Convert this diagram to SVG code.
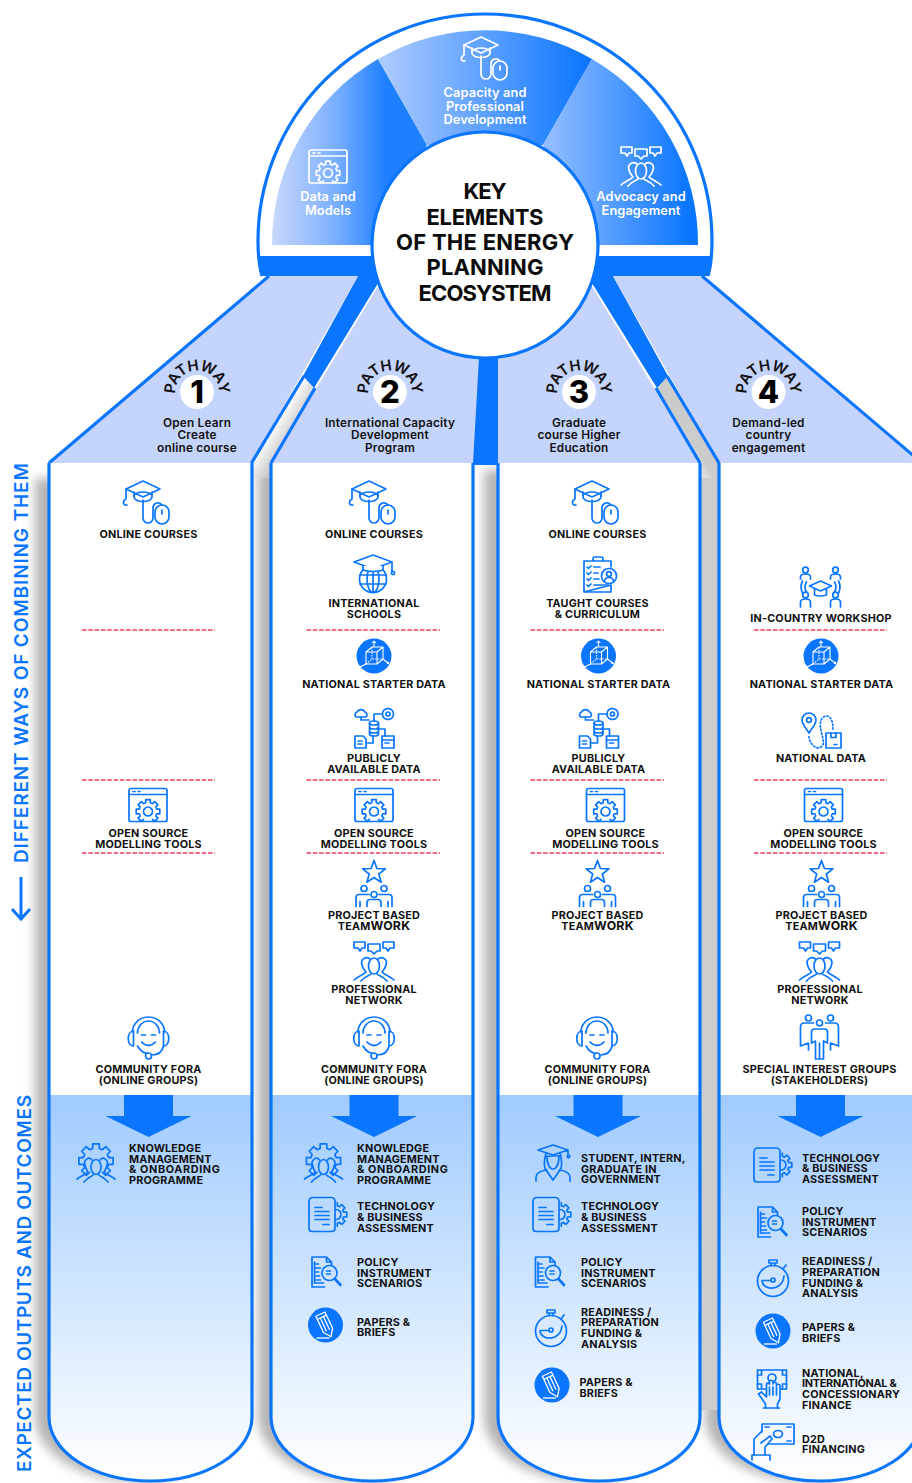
<svg xmlns="http://www.w3.org/2000/svg" xmlns:xlink="http://www.w3.org/1999/xlink" width="912" height="1483" viewBox="0 0 912 1483">
<style>
text{font-family:Inter,"Liberation Sans",sans-serif;fill:#111}
.l{font-size:10.8px;font-weight:700;text-anchor:middle;letter-spacing:.2px}
.o{font-size:10.8px;font-weight:700;letter-spacing:.2px}
.w{font-size:12.3px}
.h{font-size:11.8px;font-weight:600;text-anchor:middle;letter-spacing:.2px}
.s{font-size:12.8px;font-weight:600;text-anchor:middle;fill:#fff;letter-spacing:.1px}
.t{font-size:22px;font-weight:700;text-anchor:middle;fill:#0b0b0b}
.n{font-size:31px;font-weight:800;text-anchor:middle;fill:#000}
.p{font-size:15px;font-weight:600;text-anchor:middle;fill:#111;letter-spacing:-.4px}
.v{font-size:19px;font-weight:600;fill:#0a75ff}
.i{fill:none;stroke:currentColor;stroke-width:1.7;stroke-linejoin:round;stroke-linecap:round}
.b{color:#0a75ff}
.wh{color:#fff}
.d{stroke:#ea3f5c;stroke-width:1.6;stroke-dasharray:4.6 1.7;fill:none}
.e{fill:none;stroke:#0a75ff;stroke-width:3.2;stroke-linejoin:round}
.hd{fill:#c5d4fc}
.bl{fill:#0a75ff}
</style>
<defs>
<linearGradient id="gOut" gradientUnits="userSpaceOnUse" x1="0" y1="1095" x2="0" y2="1480"><stop offset="0" stop-color="#a0cbff"/><stop offset="1" stop-color="#fff"/></linearGradient>
<linearGradient id="gData" gradientUnits="userSpaceOnUse" x1="272" y1="0" x2="385" y2="0"><stop offset="0" stop-color="#c8d8fc"/><stop offset=".55" stop-color="#7db0ff"/><stop offset="1" stop-color="#1f80ff"/></linearGradient>
<linearGradient id="gCap" gradientUnits="userSpaceOnUse" x1="385" y1="0" x2="590" y2="0"><stop offset="0" stop-color="#aac9ff"/><stop offset="1" stop-color="#0a75ff"/></linearGradient>
<linearGradient id="gAdv" gradientUnits="userSpaceOnUse" x1="550" y1="0" x2="690" y2="0"><stop offset="0" stop-color="#8fbcff"/><stop offset="1" stop-color="#0a75ff"/></linearGradient>
<linearGradient id="gDiagL" gradientUnits="userSpaceOnUse" x1="278" y1="417" x2="296" y2="428"><stop offset="0" stop-color="#fff"/><stop offset="1" stop-color="#c9c9c9"/></linearGradient>
<linearGradient id="gDiagR" gradientUnits="userSpaceOnUse" x1="672" y1="428" x2="690" y2="417"><stop offset="0" stop-color="#e4e4e4"/><stop offset=".5" stop-color="#cbcbcb"/><stop offset="1" stop-color="#cbcbcb"/></linearGradient>
<filter id="blur" x="-20%" y="-5%" width="140%" height="110%"><feGaussianBlur stdDeviation="5.5"/></filter>
<path id="arc" d="M-20.7,8 A22,22 0 1 1 20.7,8"/>

<g id="capmouse" class="i"><path d="M-21,-14 L-4,-22 L13,-14 L-4,-6 Z"/><path d="M-13,-11 V-6 A9,4.5 0 0 0 5,-6 V-11"/><path d="M-13,-7 A9,4 0 0 1 5,-7"/><path d="M-21,-14 V-4 M-21,-4 C-25,-2 -24,3 -20,2 M-4,-3 V15 A5,5 0 0 0 6,15 V4 A5,5 0 0 1 15,2"/><rect x="8" y="2" width="14" height="19" rx="7"/><path d="M15,7 V11"/></g>

<g id="gearwin" class="i"><rect x="-19" y="-17" width="38" height="33" rx="2"/><path d="M-19,-11 H19 M-15,-14 H-13 M-10,-14 H-8"/><g transform="translate(0,6)"><path d="M-4.5,7.8 L-6.7,9.9 L-9.9,6.7 L-7.8,4.5 L-8.7,2.3 L-11.8,2.3 L-11.8,-2.3 L-8.7,-2.3 L-7.8,-4.5 L-9.9,-6.7 L-6.7,-9.9 L-4.5,-7.8 L-2.3,-8.7 L-2.3,-11.8 L2.3,-11.8 L2.3,-8.7 L4.5,-7.8 L6.7,-9.9 L9.9,-6.7 L7.8,-4.5 L8.7,-2.3 L11.8,-2.3 L11.8,2.3 L8.7,2.3 L7.8,4.5 L9.9,6.7 L6.7,9.9 L4.5,7.8"/><circle cx="0" cy="0" r="4.5"/></g></g>

<g id="speech" class="i"><path d="M-20,-19 H-9 V-13 H-12 L-14,-10 L-16,-13 H-20 Z"/><path d="M-6,-17 H6 V-10 H3 L0,-7 L-3,-10 H-6 Z"/><path d="M9,-19 H20 V-13 H16 L14,-10 L12,-13 H9 Z"/><ellipse cx="0" cy="5" rx="5.5" ry="8"/><path d="M-4,-2 C-8,-5 -14,-2 -12,4 C-11,8 -9,10 -8,11 C-11,14 -16,15 -20,19"/><path d="M4,-2 C8,-5 14,-2 12,4 C11,8 9,10 8,11 C11,14 16,15 20,19"/><path d="M-13,20 C-9,15 -5,15 -3,13 M13,20 C9,15 5,15 3,13"/></g>

<g id="headset" class="i"><path d="M-16,-6 A16,15 0 0 1 16,-6"/><path d="M-15,-7 C-22,-7 -22,8 -15,8 Z M15,-7 C22,-7 22,8 15,8 Z"/><path d="M-11,-5 A11,12 0 0 1 11,-5 M-11,8 C-8,13 -4,15 -2,15"/><path d="M-7,4 Q0,11 7,4 M-7,-3 H-3 M3,-3 H7"/><circle cx="0" cy="18" r="3"/><path d="M3,17 C10,17 14,13 15,8"/></g>

<g id="globecap" class="i"><circle cx="0" cy="5" r="13.5"/><ellipse cx="0" cy="5" rx="6" ry="13.5"/><path d="M-13,1 H13 M-13,10 H13 M0,-8 V18"/><path d="M-19,-12 L0,-19 L19,-12 L0,-5 Z" style="fill:#fff"/><path d="M19,-12 V-3"/><circle cx="20" cy="-1" r="1.6"/><path d="M-10,-8 V-4 Q0,-1 10,-4 V-8" style="fill:#fff"/></g>

<g id="clip" class="i"><path d="M-16,-14 H-7 M3,-14 H11 V-8 M11,10 V17 H-16 Z M-16,-14 V17"/><rect x="-7" y="-18" width="10" height="4" rx="1.5"/><path d="M-13,-8 L-11.5,-6.5 L-9,-9 M-13,-2 L-11.5,-.5 L-9,-3 M-13,4 L-11.5,5.5 L-9,3 M-13,10 L-11.5,11.5 L-9,9 M-6,-8 H0 M-6,-2 H-2 M-6,4 H-1 M-6,10 H8"/><circle cx="9" cy="1" r="7.5"/><circle cx="9" cy="-1" r="2.4"/><path d="M4.5,6 Q5,2.5 9,2.5 Q13,2.5 13.5,6"/></g>

<g id="cube"><circle r="17.5" fill="#0a75ff"/><g fill="none" stroke="#fff" stroke-width="1.1" stroke-linejoin="round"><path d="M-8,-4 L-2,-9 H9 V3 L3,8 H-8 Z M-8,-4 H3 V8 M3,-4 L9,-9"/><path d="M-8,8 L-2,3 H9 M-2,-9 V3" stroke-dasharray="1.5 1.2"/><path d="M0,-9 V-15 M-1.8,-13 L0,-15 L1.8,-13 M-8,8 L-14,11 M9,3 L14,7"/></g><circle cx="-14" cy="11" r="1.3" fill="#fff"/><circle cx="14" cy="7" r="1.3" fill="#fff"/></g>

<g id="flow" class="i"><path d="M-18,-11 A3,3 0 0 1 -17,-16 A4.5,4.5 0 0 1 -9,-16 A3,3 0 0 1 -8,-11 Z"/><circle cx="14" cy="-14" r="5.5" stroke-dasharray="2 .8"/><circle cx="14" cy="-14" r="2"/><ellipse cx="0" cy="-5" rx="4.5" ry="2"/><path d="M-4.5,-5 V6 A4.5,2 0 0 0 4.5,6 V-5 M-4.5,-1 A4.5,2 0 0 0 4.5,-1 M-4.5,3 A4.5,2 0 0 0 4.5,3"/><path d="M-13,-11 V-8 H-5 M8,-14 H0 V-7 M5,1 H11 V8 M-8,15 H-1 V8"/><path d="M-19,8 H-11 L-8,11 V20 H-19 Z M-16,13 H-12 M-16,16 H-12"/><rect x="8" y="8" width="12" height="12"/><path d="M8,12 H20 M11,15 H15"/></g>

<g id="star" class="i"><path d="M0,-23 L2.9,-15 L11.4,-14.7 L4.8,-9.5 L7.1,-1.3 L0,-6 L-7.1,-1.3 L-4.8,-9.5 L-11.4,-14.7 L-2.9,-15 Z"/><circle cx="-10" cy="5" r="3"/><circle cx="10" cy="5" r="3"/><circle cx="0" cy="11" r="3"/><path d="M-18,23 V14 Q-18,11 -15,11 H-5 M5,11 H15 Q18,11 18,14 V23 M-7,23 V19 Q-7,16 -4,16 H4 Q7,16 7,19 V23 M-14,23 V18 M14,23 V18"/></g>

<g id="workshop" class="i"><circle cx="-15" cy="-17" r="2.8"/><circle cx="15" cy="-17" r="2.8"/><circle cx="-15" cy="8" r="2.8"/><circle cx="15" cy="8" r="2.8"/><path d="M-20,-8 V-10 Q-20,-13 -15,-13 Q-10,-13 -10,-10 V-8 M10,-8 V-10 Q10,-13 15,-13 Q20,-13 20,-10 V-8 M-20,20 V15 Q-20,12 -15,12 Q-10,12 -10,15 V20 M10,20 V15 Q10,12 15,12 Q20,12 20,15 V20"/><path d="M-11,-1 L0,-6 L11,-1 L0,4 Z M-6,2 V8 Q0,10 6,8 V2"/><path d="M-14,-5 Q-17,0 -14,5 M-18,-6 Q-21,0 -18,6 M14,-5 Q17,0 14,5 M18,-6 Q21,0 18,6"/></g>

<g id="natdata" class="i"><path d="M-12,2.5 C-15,-3 -19,-6 -19,-10.5 A7,7 0 0 1 -5,-10.5 C-5,-6 -9,-3 -12,2.5 Z"/><circle cx="-12" cy="-10.5" r="2.4"/><rect x="5" y="2.5" width="15" height="15"/><path d="M10,2.5 V7 H15 V2.5 M13,14 H16"/><path d="M-12,6 C-12,14 -2,22 2,14 C4,8 -4,-4 1,-12 C4,-16 12,-17 12,-1" stroke-dasharray="1.4 2.2"/></g>

<g id="stake" class="i"><circle cx="-11" cy="-19" r="3"/><circle cx="11" cy="-19" r="3"/><circle cx="0" cy="-14" r="3"/><path d="M-4,22 V4 L-8,6 V-5 Q-8,-8 -5,-8 H5 Q8,-8 8,-5 V6 L4,4 V22 Z M0,6 V22"/><path d="M-11,13 V6 L-19,9 V-10 Q-19,-14 -15,-14 H-6 M11,13 V6 L19,9 V-10 Q19,-14 15,-14 H6"/></g>

<g id="know" class="i"><g transform="translate(0,-3) scale(1.45)"><path d="M-4.5,7.8 L-6.7,9.9 L-9.9,6.7 L-7.8,4.5 L-8.7,2.3 L-11.8,2.3 L-11.8,-2.3 L-8.7,-2.3 L-7.8,-4.5 L-9.9,-6.7 L-6.7,-9.9 L-4.5,-7.8 L-2.3,-8.7 L-2.3,-11.8 L2.3,-11.8 L2.3,-8.7 L4.5,-7.8 L6.7,-9.9 L9.9,-6.7 L7.8,-4.5 L8.7,-2.3 L11.8,-2.3 L11.8,2.3 L8.7,2.3 L7.8,4.5 L9.9,6.7 L6.7,9.9 L4.5,7.8" vector-effect="non-scaling-stroke"/></g><ellipse cx="0" cy="3" rx="5" ry="7.5"/><path d="M-4,-4 C-7,-8 -13,-4 -11,1 C-10,5 -9,7 -8,8 C-11,11 -15,12 -19,15 M4,-4 C7,-8 13,-4 11,1 C10,5 9,7 8,8 C11,11 15,12 19,15 M-12,18 C-8,13 -5,13 -3,11 M12,18 C8,13 5,13 3,11"/></g>

<g id="tech" class="i"><path d="M-15,-17 H3 Q7,-17 7,-13 V14 Q7,17 3,17 H-16 Q-19,17 -19,14 V-13 Q-19,-17 -15,-17 Z"/><path d="M-13,-7 H-6 M-13,-3 H1 M-13,1 H1 M-13,5 H1 M-5,10 H1"/><g transform="translate(7,0)"><path d="M2.3,-11.8 V-8.7 L4.5,-7.8 L6.7,-9.9 L9.9,-6.7 L7.8,-4.5 L8.7,-2.3 H11.8 V2.3 H8.7 L7.8,4.5 L9.9,6.7 L6.7,9.9 L4.5,7.8 L2.3,8.7 V11.8"/><path d="M1,-5 A5,5 0 0 1 1,5"/></g></g>

<g id="policy" class="i"><path d="M-2,15 H-14.5 V-15 H0 L5,-10 V-7 M0,-15 V-10 H5"/><path d="M-12,-10 V11 H-3 M-12,-8 H-8 M-12,-4 H-6 M-12,0 H-8 M-12,4 H-7 M-12,8 H-6"/><circle cx="3" cy="1" r="7.5"/><path d="M0,-1 H4 M0,2 H4"/><path d="M8.5,7 L14,13" stroke-width="2.6"/></g>

<g id="watch" class="i"><circle cx="0" cy="3" r="15.5"/><path d="M-4,-18 H4 V-15 H-4 Z M-2,-15 V-12.5 M2,-15 V-12.5 M10,-9 L13,-13"/><circle cx="0" cy="2" r="2"/><path d="M-2,2.5 H-11 C-11,12 9,15 11,-2"/></g>

<g id="pencil"><circle r="17.5" fill="#0a75ff"/><g fill="none" stroke="#fff" stroke-width="1.3" stroke-linejoin="round"><g transform="rotate(-25)"><path d="M-5,-12 H5 V6 L0,13 L-5,6 Z M-5,-8.5 H5 M-1.7,-8.5 V6 M1.7,-8.5 V6"/></g><path d="M-9,13 H4"/></g></g>

<g id="student" class="i"><path d="M-15,-13 L0,-18 L15,-13 L0,-8 Z M15,-13 V-8"/><circle cx="15.5" cy="-6.5" r="1.3"/><path d="M-7,-10 C-10,2 -9,6 -6,8 M7,-10 C10,2 9,6 6,8 M-6,-7 C-6,2 -3,6 0,6 C3,6 6,2 6,-7 M-6,-7 C-2,-6 2,-8 6,-7"/><path d="M-17,18 V14 Q-17,9 -7,7 L0,17 L7,7 Q17,9 17,14 V18"/></g>

<g id="handm" class="i"><rect x="-15" y="-19" width="29" height="19"/><path d="M-15,-14 H-11 V-19 M14,-14 H10 V-19 M-15,-5 H-11 V0 M14,-5 H10 V0"/><circle cx="-.5" cy="-11" r="4"/><path d="M-7,19 V15 L-14,5 L-11,3 L-6,8 V-5 A1.7,1.7 0 0 1 -3,-5 V-7 A1.7,1.7 0 0 1 .5,-7 V-5 A1.7,1.7 0 0 1 4,-5 V-3 A1.7,1.7 0 0 1 7.5,-3 V10 L5,15 V19" style="fill:#eaf3ff"/><path d="M-9,19 H7 M-3,-2 V6 M.5,-2 V6 M4,-2 V6"/></g>

<g id="d2d" class="i"><path d="M-11,-10 V-18 H21 V2 H-4"/><path d="M-8,-15 H-4 M18,-15 H14 M18,-1 H14"/><ellipse cx="5" cy="-8" rx="4.5" ry="3.5"/><path d="M-19,13 V-3 L-11,-11 M-12,1 L-3,-6 L-1,-3 L-8,5 V13"/><path d="M-21,18 V13 H-3 V18"/></g>
</defs>

<rect width="912" height="1483" fill="#fff"/>

<g id="shadows" fill="#b4b4b4" filter="url(#blur)">
<path d="M35,478 V1417 A101,64 0 0 0 237,1417 V478 Z"/>
<path d="M258,470 V1417 A101,64 0 0 0 460,1417 V470 Z"/>
<path d="M484,470 V1417 A101,64 0 0 0 686,1417 V470 Z"/>
<path d="M705,470 V1417 A101,64 0 0 0 907,1417 V470 Z"/>
</g>
<rect x="700" y="470" width="19" height="940" fill="#cdcdcd"/>
<polygon id="gapL" points="303,376 314,388 271,463 271,478 252,478 252,463" fill="url(#gDiagL)"/>
<polygon id="gapR" points="668,376 657,388 700,463 700,478 719,478 719,463" fill="url(#gDiagR)"/>

<g id="connectors">
<polygon class="bl" points="358,272 358,276 303,376 314,388 380,280 380,272"/>
<polygon class="bl" points="613,272 613,276 668,376 657,388 590,280 590,272"/>
<rect class="bl" x="471" y="345" width="29" height="120"/>
<polygon class="bl" points="258,256 712,256 708,276 262,276"/>
</g>

<g id="headers">
<polygon class="hd" points="49,463 269,276 358,276 251,463"/>
<polygon class="hd" points="271,463 377,288 420,260 480,340 473,463"/>
<polygon class="hd" points="498,463 498,340 550,260 593,288 700,463"/>
<polygon class="hd" points="719,463 613,276 702,276 922,463"/>
<path class="e" d="M49,463 L269,276 M251.500,463 L304,376 M271,463 L315,388 M700,463 L656,388 M719,463 L667,376 M702,276 L922,463"/>
</g>

<g id="columns">
<g id="col1"><rect x="49" y="463" width="203" height="632" fill="#fff"/><path d="M49,1095 V1417 A101.500,64 0 0 0 252,1417 V1095 Z" fill="url(#gOut)"/><path class="e" d="M49,463 V1417 A101.500,64 0 0 0 252,1417 V463"/></g>
<g id="col2"><rect x="271" y="463" width="202" height="632" fill="#fff"/><path d="M271,1095 V1417 A101,64 0 0 0 473,1417 V1095 Z" fill="url(#gOut)"/><path class="e" d="M271,463 V1417 A101,64 0 0 0 473,1417 V463"/></g>
<g id="col3"><rect x="498" y="463" width="202" height="632" fill="#fff"/><path d="M498,1095 V1417 A101,64 0 0 0 700,1417 V1095 Z" fill="url(#gOut)"/><path class="e" d="M498,463 V1417 A101,64 0 0 0 700,1417 V463"/></g>
<g id="col4"><rect x="719" y="463" width="203" height="632" fill="#fff"/><path d="M719,1095 V1417 A101.500,64 0 0 0 922,1417 V1095 Z" fill="url(#gOut)"/><path class="e" d="M719,463 V1417 A101.500,64 0 0 0 922,1417 V463"/></g>
</g>

<g id="dome">
<path d="M258,256 V241 A227,227 0 0 1 712,241 V256 Z" fill="#fff"/>
<path class="e" d="M262,276 Q258,262 258,241 A227,227 0 0 1 712,241 Q712,262 708,276"/>
<path d="M272,245 A213,213 0 0 1 378,59 L427,145 L372,245 Z" fill="url(#gData)"/>
<path d="M378,59 A213,213 0 0 1 592,59 L543,145 L427,145 Z" fill="url(#gCap)"/>
<path d="M592,59 A213,213 0 0 1 698,245 L598,245 L543,145 Z" fill="url(#gAdv)"/>
</g>

<g id="sector-data"><use href="#gearwin" class="wh" transform="translate(328,167)"/><text class="s" x="328" y="201">Data and</text><text class="s" x="328" y="215">Models</text></g>
<g id="sector-capacity"><use href="#capmouse" class="wh" transform="translate(485,59)"/><text class="s" x="485" y="97">Capacity and</text><text class="s" x="485" y="110.500">Professional</text><text class="s" x="485" y="124">Development</text></g>
<g id="sector-advocacy"><use href="#speech" class="wh" transform="translate(641,166)"/><text class="s" x="641" y="201">Advocacy and</text><text class="s" x="641" y="215">Engagement</text></g>

<g id="key"><circle cx="485" cy="245" r="113" fill="#fff" stroke="#0a75ff" stroke-width="3.200"/>
<text class="t" x="485" y="199" textLength="43">KEY</text><text class="t" x="485" y="224.500" textLength="117">ELEMENTS</text><text class="t" x="485" y="249.500" textLength="178">OF THE ENERGY</text><text class="t" x="485" y="275" textLength="117">PLANNING</text><text class="t" x="485" y="300.500" textLength="133">ECOSYSTEM</text></g>

<g id="pathway1"><g transform="translate(197,392)"><circle r="17" fill="#fff"/><text class="p"><textPath href="#arc" startOffset="50%">PATHWAY</textPath></text><text class="n" y="11">1</text></g><text class="h" x="197" y="426.500">Open Learn</text><text class="h" x="197" y="439">Create</text><text class="h" x="197" y="452">online course</text></g>
<g id="pathway2"><g transform="translate(390,392)"><circle r="17" fill="#fff"/><text class="p"><textPath href="#arc" startOffset="50%">PATHWAY</textPath></text><text class="n" y="11">2</text></g><text class="h" x="390" y="426.500">International Capacity</text><text class="h" x="390" y="439">Development</text><text class="h" x="390" y="452">Program</text></g>
<g id="pathway3"><g transform="translate(579,392)"><circle r="17" fill="#fff"/><text class="p"><textPath href="#arc" startOffset="50%">PATHWAY</textPath></text><text class="n" y="11">3</text></g><text class="h" x="579" y="426.500">Graduate</text><text class="h" x="579" y="439">course Higher</text><text class="h" x="579" y="452">Education</text></g>
<g id="pathway4"><g transform="translate(768.500,392)"><circle r="17" fill="#fff"/><text class="p"><textPath href="#arc" startOffset="50%">PATHWAY</textPath></text><text class="n" y="11">4</text></g><text class="h" x="768.500" y="426.500">Demand-led</text><text class="h" x="768.500" y="439">country</text><text class="h" x="768.500" y="452">engagement</text></g>

<g id="dividers">
<path class="d" d="M82,630 H215 M82,780 H215 M82,853 H215"/>
<path class="d" d="M306.500,630 H440 M306.500,780 H440 M306.500,853 H440"/>
<path class="d" d="M530.500,630 H664 M530.500,780 H664 M530.500,853 H664"/>
<path class="d" d="M754,630 H887 M754,780 H887 M754,853 H887"/>
</g>

<g id="arrows" class="bl">
<polygon points="124,1095 173,1095 173,1116 191.500,1116 148.500,1137 105.500,1116 124,1116"/>
<polygon points="349.500,1095 398.500,1095 398.500,1116 417,1116 374,1137 331,1116 349.500,1116"/>
<polygon points="573.500,1095 622.500,1095 622.500,1116 641,1116 598,1137 555,1116 573.500,1116"/>
<polygon points="796,1095 845,1095 845,1116 863.500,1116 820.500,1137 777.500,1116 796,1116"/>
</g>

<g id="c1-items" class="b">
<g id="c1-online"><use href="#capmouse" transform="translate(147,503)"/><text class="l" x="148.500" y="538">ONLINE COURSES</text></g>
<g id="c1-tools"><use href="#gearwin" transform="translate(148,805.500)"/><text class="l" x="148.500" y="837">OPEN SOURCE</text><text class="l" x="148.500" y="847.500">MODELLING TOOLS</text></g>
<g id="c1-fora"><use href="#headset" transform="translate(148.500,1038)"/><text class="l" x="148.500" y="1073">COMMUNITY FORA</text><text class="l" x="148.500" y="1084">(ONLINE GROUPS)</text></g>
<g id="c1-know"><use href="#know" transform="translate(96,1164)"/><text class="o" x="129" y="1152">KNOWLEDGE</text><text class="o" x="129" y="1162.500">MANAGEMENT</text><text class="o" x="129" y="1173" textLength="91">&amp; ONBOARDING</text><text class="o" x="129" y="1184">PROGRAMME</text></g>
</g>

<g id="c2-items" class="b">
<g id="c2-online"><use href="#capmouse" transform="translate(373,503)"/><text class="l" x="374" y="538">ONLINE COURSES</text></g>
<g id="c2-schools"><use href="#globecap" transform="translate(373,574)"/><text class="l" x="374" y="607">INTERNATIONAL</text><text class="l" x="374" y="617.500">SCHOOLS</text></g>
<g id="c2-starter"><use href="#cube" transform="translate(374,656)"/><text class="l" x="374" y="688">NATIONAL STARTER DATA</text></g>
<g id="c2-public"><use href="#flow" transform="translate(374,728)"/><text class="l" x="374" y="762">PUBLICLY</text><text class="l" x="374" y="773">AVAILABLE DATA</text></g>
<g id="c2-tools"><use href="#gearwin" transform="translate(374,805.500)"/><text class="l" x="374" y="837">OPEN SOURCE</text><text class="l" x="374" y="847.500">MODELLING TOOLS</text></g>
<g id="c2-team"><use href="#star" transform="translate(374,883.500)"/><text class="l" x="374" y="919">PROJECT BASED</text><text class="l" x="374" y="930">TEAM<tspan class="w">WORK</tspan></text></g>
<g id="c2-network"><use href="#speech" transform="translate(374,961)"/><text class="l" x="374" y="993">PROFESSIONAL</text><text class="l" x="374" y="1004">NETWORK</text></g>
<g id="c2-fora"><use href="#headset" transform="translate(374,1038)"/><text class="l" x="374" y="1073">COMMUNITY FORA</text><text class="l" x="374" y="1084">(ONLINE GROUPS)</text></g>
<g id="c2-know"><use href="#know" transform="translate(323.500,1164)"/><text class="o" x="357" y="1152">KNOWLEDGE</text><text class="o" x="357" y="1162.500">MANAGEMENT</text><text class="o" x="357" y="1173" textLength="91">&amp; ONBOARDING</text><text class="o" x="357" y="1184">PROGRAMME</text></g>
<g id="c2-tech"><use href="#tech" transform="translate(328,1214.500)"/><text class="o" x="357" y="1210">TECHNOLOGY</text><text class="o" x="357" y="1221">&amp; BUSINESS</text><text class="o" x="357" y="1232">ASSESSMENT</text></g>
<g id="c2-policy"><use href="#policy" transform="translate(326.500,1272)"/><text class="o" x="357" y="1266">POLICY</text><text class="o" x="357" y="1276.500">INSTRUMENT</text><text class="o" x="357" y="1287">SCENARIOS</text></g>
<g id="c2-papers"><use href="#pencil" transform="translate(325.500,1325)"/><text class="o" x="357" y="1325.500">PAPERS &amp;</text><text class="o" x="357" y="1336">BRIEFS</text></g>
</g>

<g id="c3-items" class="b">
<g id="c3-online"><use href="#capmouse" transform="translate(596,503)"/><text class="l" x="597.500" y="538">ONLINE COURSES</text></g>
<g id="c3-taught"><use href="#clip" transform="translate(600,575)"/><text class="l" x="597.500" y="607">TAUGHT COURSES</text><text class="l" x="597.500" y="617.500">&amp; CURRICULUM</text></g>
<g id="c3-starter"><use href="#cube" transform="translate(598.500,656)"/><text class="l" x="598.500" y="688">NATIONAL STARTER DATA</text></g>
<g id="c3-public"><use href="#flow" transform="translate(598.500,728)"/><text class="l" x="598.500" y="762">PUBLICLY</text><text class="l" x="598.500" y="773">AVAILABLE DATA</text></g>
<g id="c3-tools"><use href="#gearwin" transform="translate(605.500,805.500)"/><text class="l" x="605.500" y="837">OPEN SOURCE</text><text class="l" x="605.500" y="847.500">MODELLING TOOLS</text></g>
<g id="c3-team"><use href="#star" transform="translate(597.500,883.500)"/><text class="l" x="597.500" y="919">PROJECT BASED</text><text class="l" x="597.500" y="930">TEAM<tspan class="w">WORK</tspan></text></g>
<g id="c3-fora"><use href="#headset" transform="translate(597,1038)"/><text class="l" x="597.500" y="1073">COMMUNITY FORA</text><text class="l" x="597.500" y="1084">(ONLINE GROUPS)</text></g>
<g id="c3-student"><use href="#student" transform="translate(553,1163)"/><text class="o" x="581" y="1162">STUDENT, INTERN,</text><text class="o" x="581" y="1172.500">GRADUATE IN</text><text class="o" x="581" y="1183">GOVERNMENT</text></g>
<g id="c3-tech"><use href="#tech" transform="translate(552,1214.500)"/><text class="o" x="581" y="1210">TECHNOLOGY</text><text class="o" x="581" y="1221">&amp; BUSINESS</text><text class="o" x="581" y="1232">ASSESSMENT</text></g>
<g id="c3-policy"><use href="#policy" transform="translate(550,1272)"/><text class="o" x="581" y="1266">POLICY</text><text class="o" x="581" y="1276.500">INSTRUMENT</text><text class="o" x="581" y="1287">SCENARIOS</text></g>
<g id="c3-watch"><use href="#watch" transform="translate(551,1328)"/><text class="o" x="581" y="1315.500">READINESS /</text><text class="o" x="581" y="1326">PREPARATION</text><text class="o" x="581" y="1337">FUNDING &amp;</text><text class="o" x="581" y="1347.500">ANALYSIS</text></g>
<g id="c3-papers"><use href="#pencil" transform="translate(552,1385)"/><text class="o" x="579.500" y="1386">PAPERS &amp;</text><text class="o" x="579.500" y="1396.500">BRIEFS</text></g>
</g>

<g id="c4-items" class="b">
<g id="c4-workshop"><use href="#workshop" transform="translate(820.500,587)"/><text class="l" x="821" y="621.500">IN-COUNTRY WORKSHOP</text></g>
<g id="c4-starter"><use href="#cube" transform="translate(821,656)"/><text class="l" x="821.500" y="688">NATIONAL STARTER DATA</text></g>
<g id="c4-natdata"><use href="#natdata" transform="translate(821,730.500)"/><text class="l" x="821" y="762">NATIONAL DATA</text></g>
<g id="c4-tools"><use href="#gearwin" transform="translate(823.500,805.500)"/><text class="l" x="823.500" y="837">OPEN SOURCE</text><text class="l" x="823.500" y="847.500">MODELLING TOOLS</text></g>
<g id="c4-team"><use href="#star" transform="translate(821.500,883.500)"/><text class="l" x="821.500" y="919">PROJECT BASED</text><text class="l" x="821.500" y="930">TEAM<tspan class="w">WORK</tspan></text></g>
<g id="c4-network"><use href="#speech" transform="translate(819.500,961)"/><text class="l" x="820" y="993">PROFESSIONAL</text><text class="l" x="820" y="1004">NETWORK</text></g>
<g id="c4-stake"><use href="#stake" transform="translate(819.500,1037)"/><text class="l" x="819.500" y="1073">SPECIAL INTEREST GROUPS</text><text class="l" x="819.500" y="1084">(STAKEHOLDERS)</text></g>
<g id="c4-tech"><use href="#tech" transform="translate(773,1165)"/><text class="o" x="802" y="1161.500">TECHNOLOGY</text><text class="o" x="802" y="1172">&amp; BUSINESS</text><text class="o" x="802" y="1183">ASSESSMENT</text></g>
<g id="c4-policy"><use href="#policy" transform="translate(772.500,1222)"/><text class="o" x="802" y="1215">POLICY</text><text class="o" x="802" y="1226">INSTRUMENT</text><text class="o" x="802" y="1236">SCENARIOS</text></g>
<g id="c4-watch"><use href="#watch" transform="translate(773,1278)"/><text class="o" x="802" y="1265">READINESS /</text><text class="o" x="802" y="1276">PREPARATION</text><text class="o" x="802" y="1286.500">FUNDING &amp;</text><text class="o" x="802" y="1297">ANALYSIS</text></g>
<g id="c4-papers"><use href="#pencil" transform="translate(773,1331)"/><text class="o" x="802" y="1331">PAPERS &amp;</text><text class="o" x="802" y="1342">BRIEFS</text></g>
<g id="c4-finance"><use href="#handm" transform="translate(772.500,1389)"/><text class="o" x="802" y="1376.500">NATIONAL,</text><text class="o" x="802" y="1387" textLength="95">INTERNATIONAL &amp;</text><text class="o" x="802" y="1398">CONCESSIONARY</text><text class="o" x="802" y="1408.500">FINANCE</text></g>
<g id="c4-d2d"><use href="#d2d" transform="translate(773,1442)"/><text class="o" x="802" y="1442.500">D2D</text><text class="o" x="802" y="1453">FINANCING</text></g>
</g>

<g id="side-labels">
<text class="v" transform="translate(28,863) rotate(-90)" textLength="400">DIFFERENT WAYS OF COMBINING THEM</text>
<text class="v" transform="translate(30.500,1472) rotate(-90)" textLength="377">EXPECTED OUTPUTS AND OUTCOMES</text>
<path d="M21,877 V918 M12,909 L21,919 L30,909" fill="none" stroke="#0a75ff" stroke-width="3"/>
</g>
</svg>
